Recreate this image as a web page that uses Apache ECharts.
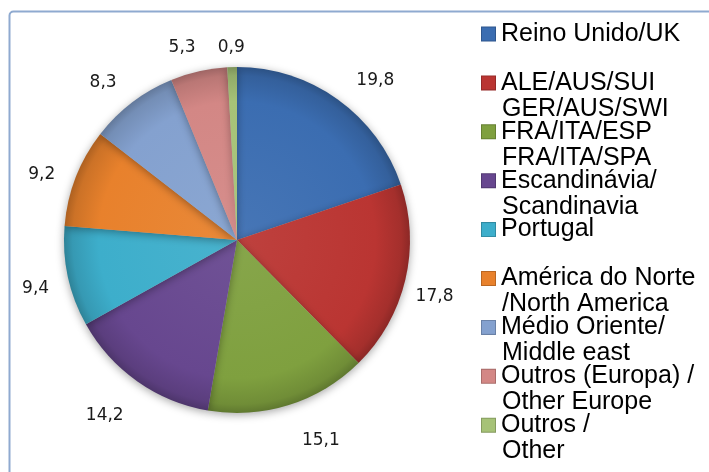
<!DOCTYPE html>
<html>
<head>
<meta charset="utf-8">
<script src="https://cdn.jsdelivr.net/npm/echarts@6/dist/echarts.min.js"></script>
<style>
html,body{margin:0;padding:0;background:#fff;}
#chart{width:709px;height:472px;}
</style>
</head>
<body>
<div id="chart"></div>
<script>
// ---- data ----
var namesPt = ['Reino Unido/UK', 'ALE/AUS/SUI', 'FRA/ITA/ESP', 'Escandinávia/', 'Portugal',
               'América do Norte', 'Médio Oriente/', 'Outros (Europa) /', 'Outros /'];
var namesEn = ['', 'GER/AUS/SWI', 'FRA/ITA/SPA', 'Scandinavia', '',
               '/North America', 'Middle east', 'Other Europe', 'Other'];
var values = [19.8, 17.8, 15.1, 14.2, 9.4, 9.2, 8.3, 5.3, 0.9];

// ---- styles ----
var colors = ['#3B6DB1', '#BA3532', '#7FA03F', '#67478F', '#3DAECB',
              '#E8812C', '#84A1CF', '#D38785', '#A6C277'];
// small label nudges (px) relative to the library-computed label positions
var labelNudge = [[20, -4], [0, 0], [23, -3], [-15, 0], [-3, -4], [-6, -2], [-11, -6], [-10, -4], [0, 0]];
var CX = 237, CY = 240, R = 173;

function shade(hex, f) {
  var n = parseInt(hex.slice(1), 16);
  var r = (n >> 16) & 255, g = (n >> 8) & 255, b = n & 255;
  function m(v) { return Math.max(0, Math.min(255, Math.round(f < 0 ? v * (1 + f) : v + (255 - v) * f))); }
  return 'rgb(' + m(r) + ',' + m(g) + ',' + m(b) + ')';
}

var names = namesPt.map(function (p, i) { return namesEn[i] ? p + '\n' + namesEn[i] : p; });

var pieData = values.map(function (v, i) {
  return {
    name: names[i], value: v,
    itemStyle: {
      color: {
        type: 'radial', x: CX, y: CY, r: R, global: true,
        colorStops: [
          { offset: 0, color: shade(colors[i], 0.06) },
          { offset: 0.8, color: colors[i] },
          { offset: 0.95, color: shade(colors[i], -0.12) },
          { offset: 1, color: shade(colors[i], -0.25) }
        ]
      }
    }
  };
});
var labelData = values.map(function (v, i) { return { name: names[i], value: v }; });

var LH = 26;
var rich = {
  p: { width: 14, height: 14, lineHeight: LH },
  t: { fontSize: 25, lineHeight: LH, fontFamily: 'Liberation Sans', color: '#000', padding: [0, 0, 0, 6] }
};
colors.forEach(function (c, i) {
  rich['s' + i] = { width: 13, height: 13, lineHeight: LH, backgroundColor: c, borderColor: shade(c, -0.2), borderWidth: 1 };
});

var chart = echarts.init(document.getElementById('chart'), null, { renderer: 'canvas' });
chart.setOption({
  animation: false,
  backgroundColor: '#fff',
  graphic: [{
    type: 'rect', left: 7, top: 9,
    shape: { width: 760, height: 520, r: 4 },
    style: { fill: 'none', stroke: '#8FAAD0', lineWidth: 2 },
    silent: true
  }],
  legend: {
    orient: 'vertical',
    left: 477, top: 21, height: 450,
    padding: 0,
    itemGap: -3.1,
    itemWidth: 0, itemHeight: 0,
    selectedMode: false,
    data: names,
    formatter: function (name) {
      var i = names.indexOf(name);
      return '{s' + i + '|}{t|' + namesPt[i] + '}\n{p|}{t|' + (namesEn[i] || ' ') + '}';
    },
    textStyle: { rich: rich, fontSize: 25, lineHeight: LH }
  },
  series: [{
    type: 'pie',
    center: [CX, CY],
    radius: R,
    startAngle: 90,
    clockwise: true,
    label: { show: false },
    labelLine: { show: false },
    itemStyle: { shadowBlur: 8, shadowColor: 'rgba(0,0,0,0.35)', shadowOffsetY: 2 },
    emphasis: { disabled: true },
    data: pieData
  }, {
    type: 'pie',
    center: [CX, CY + 10],
    radius: [184, 216],
    startAngle: 90,
    clockwise: true,
    silent: true,
    itemStyle: { color: 'rgba(0,0,0,0)' },
    label: {
      show: true, position: 'inside',
      fontFamily: 'DejaVu Sans', fontSize: 17, color: '#1a1a1a',
      formatter: function (p) { return String(p.value).replace('.', ','); }
    },
    labelLayout: function (p) {
      var n = labelNudge[p.dataIndex] || [0, 0];
      return { dx: n[0], dy: n[1] };
    },
    labelLine: { show: false },
    emphasis: { disabled: true },
    data: labelData
  }]
});
</script>
</body>
</html>
